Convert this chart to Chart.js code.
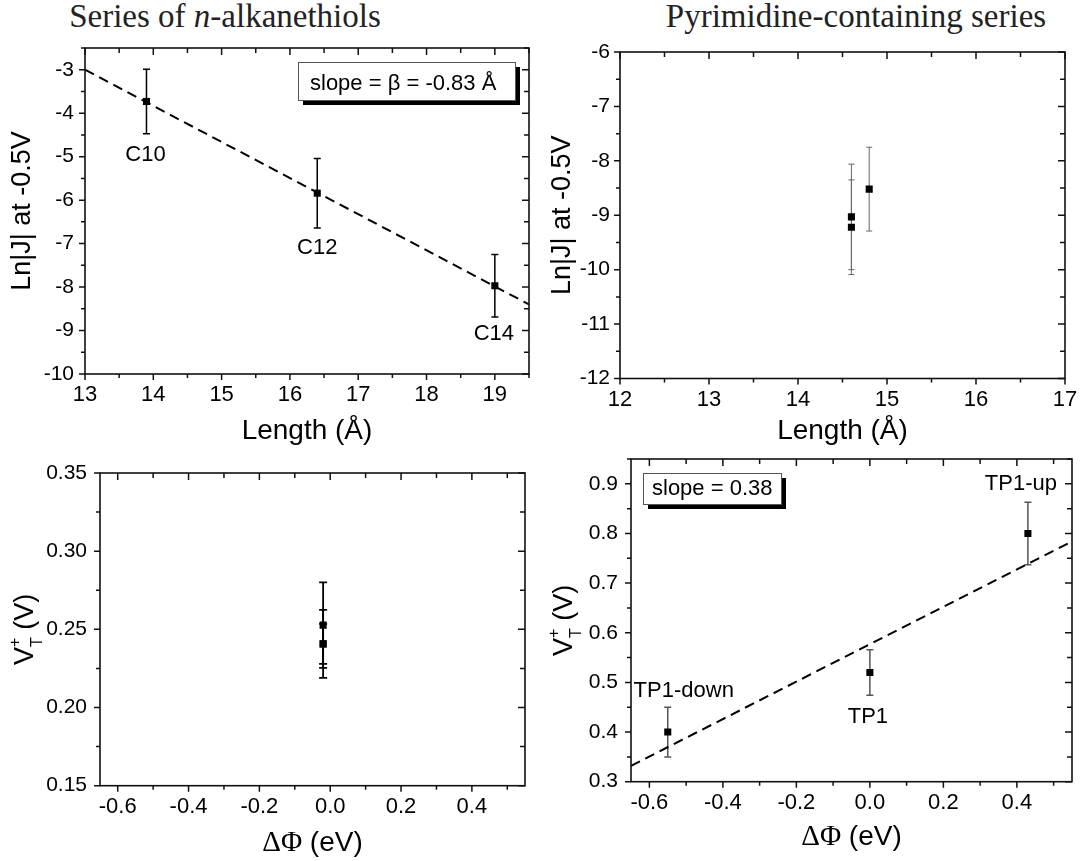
<!DOCTYPE html>
<html>
<head>
<meta charset="utf-8">
<script src="https://cdn.jsdelivr.net/npm/chart.js@4.4.0/dist/chart.umd.min.js"></script>
<style>
  body { margin: 0; background: #fff; width: 1080px; height: 861px; position: relative; overflow: hidden; }
  .panel { position: absolute; }
  .ttl { position: absolute; top: 0; width: 500px; text-align: center; white-space: nowrap;
         font-family: "Liberation Serif", serif; font-size: 33px; line-height: 33px; color: #222; }
</style>
</head>
<body>
<div class="ttl" style="left:-25px">Series of <i>n</i>-alkanethiols</div>
<div class="ttl" style="left:606px">Pyrimidine-containing series</div>
<div class="panel" style="left:0;top:0;width:540px;height:450px"><canvas id="c1"></canvas></div>
<div class="panel" style="left:540px;top:0;width:540px;height:450px"><canvas id="c2"></canvas></div>
<div class="panel" style="left:0;top:450px;width:540px;height:411px"><canvas id="c3"></canvas></div>
<div class="panel" style="left:540px;top:450px;width:540px;height:411px"><canvas id="c4"></canvas></div>
<script>
// n-alkanethiols, Ln|J| vs length
var alkLabels = ["C10", "C12", "C14"];
var alkLength = [13.9, 16.4, 19.0];
var alkLnJ = [-3.73, -5.84, -7.97];
var alkLnJErr = [0.74, 0.80, 0.72];
var alkFitX = [13, 19.5];
var alkFitY = [-3.0, -8.4];

// pyrimidine series, Ln|J| vs length
var pyrLength = [14.6, 14.6, 14.8];
var pyrLnJ = [-9.03, -9.22, -8.52];
var pyrLnJErr = [0.97, 0.87, 0.77];

// n-alkanethiols, V_T+ vs dPhi
var alkDphi = [-0.02, -0.02, -0.02];
var alkVt = [0.2527, 0.2407, 0.2407];
var alkVtErr = [0.0273, 0.0218, 0.0128];

// pyrimidine series, V_T+ vs dPhi
var tpLabels = ["TP1-down", "TP1", "TP1-up"];
var tpDphi = [-0.55, 0.0, 0.43];
var tpVt = [0.40, 0.52, 0.80];
var tpVtErr = [0.05, 0.046, 0.063];
var tpFitX = [-0.65, 0.55];
var tpFitY = [0.332, 0.784];

// tick labels
var lenTicksA = [13, 14, 15, 16, 17, 18, 19];
var lnjTicksA = [-10, -9, -8, -7, -6, -5, -4, -3];
var lenTicksB = [12, 13, 14, 15, 16, 17];
var lnjTicksB = [-12, -11, -10, -9, -8, -7, -6];
var dphiTicks = [-0.6, -0.4, -0.2, 0.0, 0.2, 0.4];
var vtTicksA = [0.15, 0.20, 0.25, 0.30, 0.35];
var vtTicksB = [0.3, 0.4, 0.5, 0.6, 0.7, 0.8, 0.9];

Chart.defaults.font.family = "'Liberation Sans', Arial, sans-serif";
Chart.defaults.color = "#000";

function xy(xs, ys) {
  return xs.map(function (x, i) { return { x: x, y: ys[i] }; });
}
function fmt(d) {
  return function (v) { return Number(v).toFixed(d); };
}

function drawVt(ctx, bx, cy) {
  var big = "27px 'Liberation Sans'", small = "16px 'Liberation Sans'";
  ctx.save();
  ctx.translate(bx, cy);
  ctx.rotate(-Math.PI / 2);
  ctx.fillStyle = "#000";
  ctx.textAlign = "left";
  ctx.textBaseline = "alphabetic";
  ctx.font = big;
  var wV = ctx.measureText("V").width, wR = ctx.measureText(" (V)").width;
  ctx.font = small;
  var wS = Math.max(ctx.measureText("+").width, ctx.measureText("T").width);
  var x0 = -(wV + wS + wR) / 2;
  ctx.font = big; ctx.fillText("V", x0, 0);
  ctx.font = small; ctx.fillText("+", x0 + wV, -13); ctx.fillText("T", x0 + wV, 9);
  ctx.font = big; ctx.fillText(" (V)", x0 + wV + wS, 0);
  ctx.restore();
}

function drawPhi(ctx, cx, cy) {
  var serif = "29px 'Liberation Serif'", sans = "28px 'Liberation Sans'";
  ctx.save();
  ctx.fillStyle = "#000";
  ctx.textAlign = "left";
  ctx.textBaseline = "middle";
  ctx.font = serif; var w1 = ctx.measureText("\u0394\u03A6").width;
  ctx.font = sans; var w2 = ctx.measureText(" (eV)").width;
  var x0 = cx - (w1 + w2) / 2;
  ctx.font = serif; ctx.fillText("\u0394\u03A6", x0, cy);
  ctx.font = sans; ctx.fillText(" (eV)", x0 + w1, cy);
  ctx.restore();
}

var decor = {
  id: "decor",
  beforeDatasetsDraw: function (chart, args, o) {
    var ctx = chart.ctx, ys = chart.scales.y;
    chart.data.datasets.forEach(function (ds, i) {
      if (!ds.errY) return;
      var meta = chart.getDatasetMeta(i);
      ctx.save();
      ctx.strokeStyle = ds.errColor;
      ctx.lineWidth = ds.errWidth;
      meta.data.forEach(function (pt, j) {
        var v = ds.data[j].y, e = ds.errY[j];
        var y1 = ys.getPixelForValue(v + e), y2 = ys.getPixelForValue(v - e);
        ctx.beginPath();
        ctx.moveTo(pt.x, y1); ctx.lineTo(pt.x, y2);
        ctx.moveTo(pt.x - ds.errCap, y1); ctx.lineTo(pt.x + ds.errCap, y1);
        ctx.moveTo(pt.x - ds.errCap, y2); ctx.lineTo(pt.x + ds.errCap, y2);
        ctx.stroke();
      });
      ctx.restore();
    });
  },
  afterDraw: function (chart, args, o) {
    var ctx = chart.ctx, a = chart.chartArea;
    var xs = chart.scales.x, ys = chart.scales.y;
    ctx.save();
    // frame
    ctx.strokeStyle = "#111";
    ctx.lineWidth = 1.6;
    ctx.strokeRect(a.left, a.top, a.right - a.left, a.bottom - a.top);
    // ticks: outward on left/bottom, inward on top/right
    function marks(scale, step, len) {
      var out = [];
      scale.ticks.forEach(function (t) { out.push([t.value, len[0]]); });
      var v0 = Math.ceil((scale.min - 1e-9) / step) * step;
      for (var v = v0; v <= scale.max + 1e-9; v += step) {
        var major = scale.ticks.some(function (t) { return Math.abs(t.value - v) < step / 10; });
        if (!major) out.push([v, len[1]]);
      }
      return out;
    }
    ctx.lineWidth = 1.5;
    ctx.beginPath();
    marks(xs, o.minorX, [6, 4]).forEach(function (m) {
      var px = xs.getPixelForValue(m[0]);
      ctx.moveTo(px, a.bottom); ctx.lineTo(px, a.bottom + m[1]);
      ctx.moveTo(px, a.top); ctx.lineTo(px, a.top + m[1] + 1);
    });
    marks(ys, o.minorY, [6, 4]).forEach(function (m) {
      var py = ys.getPixelForValue(m[0]);
      ctx.moveTo(a.left - m[1], py); ctx.lineTo(a.left, py);
      ctx.moveTo(a.right, py); ctx.lineTo(a.right - m[1] - 1, py);
    });
    ctx.stroke();

    // point labels
    if (o.labels) {
      var meta = chart.getDatasetMeta(0);
      ctx.fillStyle = "#000";
      ctx.font = "22px 'Liberation Sans'";
      ctx.textAlign = "center";
      ctx.textBaseline = "middle";
      o.labels.forEach(function (txt, j) {
        var pt = meta.data[j];
        ctx.fillText(txt, pt.x + o.labelDx[j], pt.y + o.labelDy[j]);
      });
    }

    // slope box with shadow
    if (o.box) {
      var b = o.box, bx = a.left + b.x, by = a.top + b.y;
      ctx.fillStyle = "#000";
      ctx.fillRect(bx + 5, by + 5, b.w, b.h);
      ctx.fillStyle = "#fff";
      ctx.fillRect(bx, by, b.w, b.h);
      ctx.strokeStyle = "#555";
      ctx.lineWidth = 1;
      ctx.strokeRect(bx + 0.5, by + 0.5, b.w, b.h);
      ctx.fillStyle = "#000";
      ctx.font = "22px 'Liberation Sans'";
      ctx.textAlign = "left";
      ctx.textBaseline = "alphabetic";
      ctx.fillText(b.text, bx + b.tx, by + b.ty);
    }

    // axis titles with sub/superscripts
    if (o.vtTitleX !== undefined) drawVt(ctx, o.vtTitleX, (a.top + a.bottom) / 2);
    if (o.phiTitleY !== undefined) drawPhi(ctx, (a.left + a.right) / 2, o.phiTitleY);
    ctx.restore();
  }
};

function scatterSet(data, err, color, width, cap) {
  return {
    data: data, errY: err, errColor: color, errWidth: width, errCap: cap,
    pointStyle: "rect", pointRadius: 5, backgroundColor: "#000", borderWidth: 0
  };
}
function fitSet(data) {
  return {
    data: data, showLine: true, pointRadius: 0, borderColor: "#000",
    borderWidth: 2, borderDash: [10, 6], fill: false
  };
}

function panel(id, c) {
  return new Chart(document.getElementById(id), {
    type: "scatter",
    data: { datasets: c.datasets },
    options: {
      responsive: true,
      maintainAspectRatio: false,
      animation: false,
      events: [],
      layout: { padding: { left: 0, top: c.padTop, right: c.padRight, bottom: 0 } },
      plugins: { legend: { display: false }, tooltip: { enabled: false }, decor: c.decor },
      scales: {
        x: {
          type: "linear", min: c.xMin, max: c.xMax,
          grid: { display: false, drawTicks: false }, border: { display: false },
          afterBuildTicks: function (s) { s.ticks = c.xTicks.map(function (v) { return { value: v }; }); },
          afterFit: function (s) { s.height = c.xH; s.paddingLeft = 0; s.paddingRight = 0; },
          ticks: { font: { size: 22 }, padding: 8, maxRotation: 0, autoSkip: false, callback: fmt(c.xDec) },
          title: c.xTitle ? { display: true, text: c.xTitle, font: { size: 28 }, padding: { top: 0, bottom: 2 } } : { display: false }
        },
        y: {
          type: "linear", min: c.yMin, max: c.yMax,
          grid: { display: false, drawTicks: false }, border: { display: false },
          afterBuildTicks: function (s) { s.ticks = c.yTicks.map(function (v) { return { value: v }; }); },
          // keep the plot box where the reference has it
          afterFit: function (s) { s.width = c.yW; s.paddingTop = 0; s.paddingBottom = 0; },
          ticks: { font: { size: 21 }, padding: c.yPad, autoSkip: false, callback: fmt(c.yDec) },
          title: c.yTitle ? { display: true, text: c.yTitle, font: { size: 27 }, padding: { top: 6, bottom: 0 } } : { display: false }
        }
      }
    },
    plugins: [decor]
  });
}

panel("c1", {
  datasets: [
    scatterSet(xy(alkLength, alkLnJ), alkLnJErr, "#000", 1.5, 3.5),
    fitSet(xy(alkFitX, alkFitY))
  ],
  xMin: 13, xMax: 19.5, yMin: -10, yMax: -2.5,
  xTicks: lenTicksA, yTicks: lnjTicksA, xDec: 0, yDec: 0,
  xTitle: "Length (\u00C5)", yTitle: "Ln|J| at -0.5V",
  yW: 85, xH: 76, padTop: 48, padRight: 11, yPad: 11,
  decor: {
    minorX: 0.5, minorY: 0.5,
    labels: alkLabels, labelDx: [-1, 0, -1], labelDy: [53, 55, 48],
    box: { text: "slope = \u03B2 = -0.83 \u00C5", x: 213, y: 14, w: 217, h: 38, tx: 12, ty: 28 }
  }
});

panel("c2", {
  datasets: [scatterSet(xy(pyrLength, pyrLnJ), pyrLnJErr, "#666", 1, 3)],
  xMin: 12, xMax: 17, yMin: -12, yMax: -6,
  xTicks: lenTicksB, yTicks: lnjTicksB, xDec: 0, yDec: 0,
  xTitle: "Length (\u00C5)", yTitle: "Ln|J| at -0.5V",
  yW: 80, xH: 71.5, padTop: 52, padRight: 15, yPad: 10,
  decor: { minorX: 0.5, minorY: 0.5 }
});

panel("c3", {
  datasets: [scatterSet(xy(alkDphi, alkVt), alkVtErr, "#000", 1.8, 4)],
  xMin: -0.65, xMax: 0.55, yMin: 0.15, yMax: 0.35,
  xTicks: dphiTicks, yTicks: vtTicksA, xDec: 1, yDec: 2,
  yW: 100, xH: 75.3, padTop: 23, padRight: 15, yPad: 13,
  decor: { minorX: 0.1, minorY: 0.025, vtTitleX: 33, phiTitleY: 393 }
});

panel("c4", {
  datasets: [
    scatterSet(xy(tpDphi, tpVt), tpVtErr, "#555", 1.5, 3.5),
    fitSet(xy(tpFitX, tpFitY))
  ],
  xMin: -0.65, xMax: 0.55, yMin: 0.3, yMax: 0.95,
  xTicks: dphiTicks, yTicks: vtTicksB, xDec: 1, yDec: 1,
  yW: 91, xH: 79.3, padTop: 9, padRight: 8, yPad: 13,
  decor: {
    minorX: 0.1, minorY: 0.05, vtTitleX: 32, phiTitleY: 387,
    labels: tpLabels, labelDx: [16, -2, -7], labelDy: [-41, 44, -50],
    box: { text: "slope = 0.38", x: 12, y: 14, w: 138, h: 31, tx: 9, ty: 22 }
  }
});
</script>
</body>
</html>
